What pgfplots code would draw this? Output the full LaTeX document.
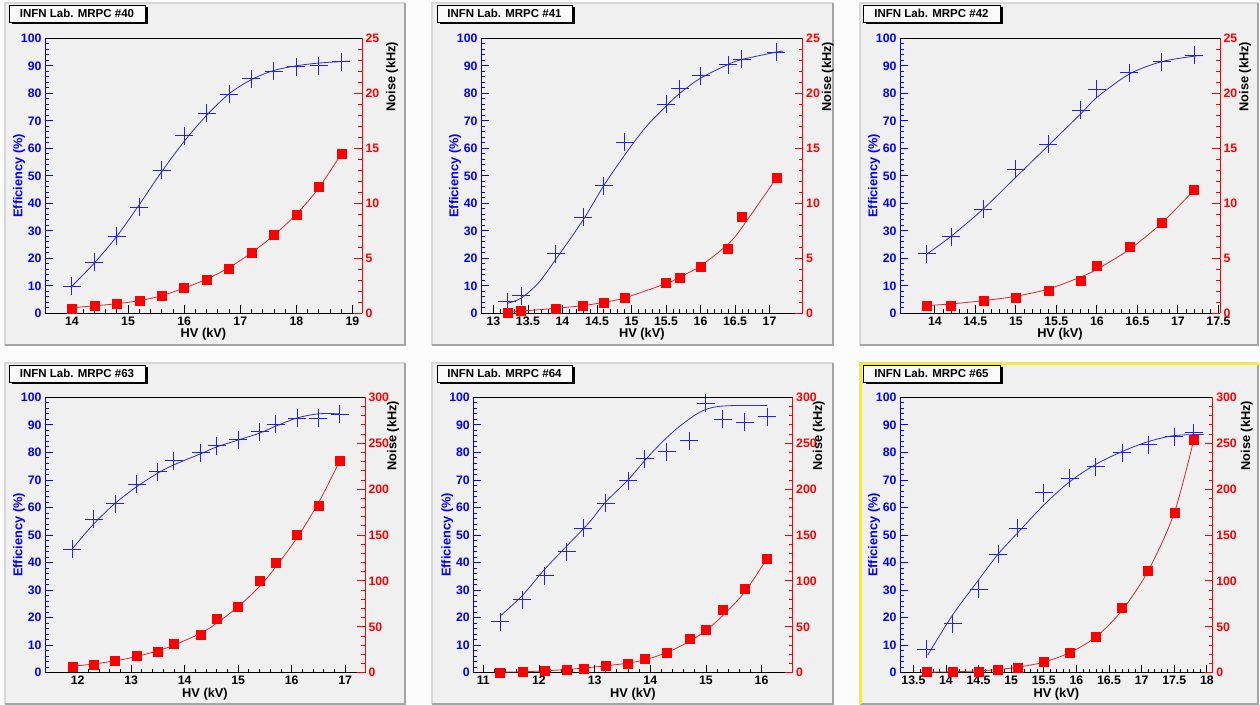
\documentclass[border=0pt]{standalone}
\usepackage{fontspec}
\setmainfont{Liberation Sans}
\usepackage{pgfplots}
\pgfplotsset{compat=1.18}
\usepackage{pgfplotstable}
\definecolor{padgray}{RGB}{240,240,240}
\definecolor{bggray}{RGB}{252,252,252}
\definecolor{bevdark}{RGB}{165,165,165}
\definecolor{bevlight}{RGB}{215,215,215}
\definecolor{fitblue}{RGB}{45,45,200}
\definecolor{fitred}{RGB}{215,40,40}
\definecolor{mkblue}{RGB}{0,0,255}
\definecolor{mkblue2}{RGB}{30,30,255}
\definecolor{mkred}{RGB}{255,0,0}
\definecolor{selyellow}{RGB}{255,240,0}
\newcommand{\tickfont}{\fontsize{12.3}{12.3}\selectfont\bfseries}
\newcommand{\labfont}{\fontsize{12.8}{13}\selectfont\bfseries}
\newcommand{\titfont}{\fontsize{11.5}{12}\selectfont\bfseries}

% ---------------- data: MRPC #40 ----------------
\pgfplotstableread{
hv eff
14.0 9.9
14.4 18.5
14.8 28.1
15.2 38.5
15.6 52.1
16.0 64.5
16.4 72.7
16.8 79.6
17.2 85.2
17.6 88.1
18.0 89.7
18.4 90.1
18.8 91.5
}\effA
\pgfplotstableread{
hv eff
14.0 9.9
14.4 18.3
14.8 28.0
15.2 39.5
15.6 51.5
16.0 62.5
16.4 72.0
16.8 79.8
17.2 85.0
17.6 88.3
18.0 90.0
18.4 91.0
18.95 91.7
}\efffitA
\pgfplotstableread{
hv noise
14.0 0.45
14.4 0.67
14.8 0.85
15.2 1.15
15.6 1.64
16.0 2.36
16.4 3.09
16.8 4.09
17.2 5.55
17.6 7.18
18.0 9.0
18.4 11.5
18.8 14.5
}\noiA
\pgfplotstableread{
hv noise
14.0 0.5
14.4 0.68
14.8 0.87
15.2 1.15
15.6 1.6
16.0 2.3
16.4 3.1
16.8 4.15
17.2 5.5
17.6 7.1
18.0 9.0
18.4 11.4
18.8 14.5
}\noifitA
% ---------------- data: MRPC #41 ----------------
\pgfplotstableread{
hv eff
13.2 4.2
13.4 6.3
13.9 21.6
14.3 34.9
14.6 46.4
14.9 62.2
15.5 76.1
15.7 81.6
16.0 86.4
16.4 90.3
16.6 92.4
17.1 95.0
}\effB
\pgfplotstableread{
hv eff
13.2 3.6
13.4 5.5
13.65 11.0
13.9 19.5
14.3 34.0
14.6 46.5
14.9 57.5
15.2 67.5
15.5 75.3
15.7 80.0
16.0 85.5
16.4 90.5
16.6 92.3
17.1 95.0
17.2 95.3
}\efffitB
\pgfplotstableread{
hv noise
13.2 0.09
13.4 0.2
13.9 0.45
14.3 0.7
14.6 1.0
14.9 1.45
15.5 2.8
15.7 3.24
16.0 4.2
16.4 5.9
16.6 8.76
17.1 12.33
}\noiB
\pgfplotstableread{
hv noise
13.2 0.1
13.4 0.2
13.9 0.45
14.3 0.7
14.6 1.0
14.9 1.4
15.5 2.7
15.7 3.3
16.0 4.3
16.4 6.3
16.6 7.8
17.1 12.3
}\noifitB
% ---------------- data: MRPC #42 ----------------
\pgfplotstableread{
hv eff
13.9 21.6
14.2 27.9
14.6 37.8
15.0 52.4
15.4 61.5
15.8 73.9
16.0 81.5
16.4 87.5
16.8 91.5
17.2 93.9
}\effC
\pgfplotstableread{
hv eff
13.9 21.5
14.2 28.0
14.6 38.0
15.0 49.5
15.4 61.0
15.8 72.5
16.0 78.5
16.4 87.0
16.8 91.5
17.2 93.5
17.3 93.7
}\efffitC
\pgfplotstableread{
hv noise
13.9 0.67
14.2 0.7
14.6 1.15
15.0 1.45
15.4 2.06
15.8 2.94
16.0 4.3
16.4 6.06
16.8 8.27
17.2 11.2
}\noiC
\pgfplotstableread{
hv noise
13.9 0.7
14.2 0.85
14.6 1.15
15.0 1.55
15.4 2.2
15.8 3.3
16.0 4.0
16.4 5.8
16.8 8.2
17.2 11.2
}\noifitC
% ---------------- data: MRPC #63 ----------------
\pgfplotstableread{
hv eff
11.9 44.9
12.3 55.7
12.7 61.3
13.1 68.5
13.5 73.0
13.8 76.9
14.3 79.9
14.6 82.4
15.0 84.5
15.4 87.5
15.7 90.3
16.1 92.4
16.5 92.4
16.9 93.8
}\effD
\pgfplotstableread{
hv eff
11.9 45.0
12.3 54.0
12.7 61.5
13.1 67.5
13.5 72.5
13.8 75.5
14.3 79.5
14.6 82.0
15.0 84.5
15.4 87.0
15.7 89.5
16.1 92.5
16.5 94.0
16.9 94.0
}\efffitD
\pgfplotstableread{
hv noise
11.9 6.5
12.3 9.1
12.7 13.1
13.1 18.2
13.5 22.5
13.8 31.2
14.3 41.0
14.6 58.8
15.0 71.6
15.4 99.9
15.7 119.9
16.1 150.0
16.5 181.6
16.9 231.0
}\noiD
\pgfplotstableread{
hv noise
11.9 7
12.3 9.5
12.7 13
13.1 17.5
13.5 24
13.8 30
14.3 43
14.6 54
15.0 72
15.4 94
15.7 115
16.1 147
16.5 185
16.9 231
}\noifitD
% ---------------- data: MRPC #64 ----------------
\pgfplotstableread{
hv eff
11.3 18.5
11.7 26.4
12.1 35.2
12.5 43.9
12.8 52.4
13.2 61.5
13.6 69.7
13.9 77.6
14.3 80.3
14.7 84.3
15.0 97.8
15.3 92.1
15.7 90.9
16.1 93.0
}\effE
\pgfplotstableread{
hv eff
11.3 20.5
11.7 28.0
12.1 37.5
12.5 46.0
12.9 54.5
13.2 62.0
13.6 70.0
13.9 77.0
14.2 83.5
14.5 89.0
14.8 93.5
15.0 95.6
15.2 96.6
15.5 97.0
16.1 97.0
}\efffitE
\pgfplotstableread{
hv noise
11.3 0.4
11.7 1.1
12.1 2.2
12.5 3.6
12.8 4.7
13.2 7.3
13.6 10.2
13.9 15.6
14.3 21.8
14.7 37.4
15.0 46.5
15.3 68.3
15.7 91.2
16.1 124.6
}\noiE
\pgfplotstableread{
hv noise
11.3 0.5
11.7 1
12.1 2
12.5 3.5
12.8 5
13.2 7.5
13.6 10.5
13.9 14
14.3 22
14.7 34
15.0 46
15.3 62
15.7 88
16.1 124.6
}\noifitE
% ---------------- data: MRPC #65 ----------------
\pgfplotstableread{
hv eff
13.7 8.5
14.1 17.7
14.5 30.3
14.8 43.1
15.1 52.4
15.5 65.4
15.9 70.6
16.3 74.8
16.7 79.9
17.1 82.7
17.5 85.7
17.8 87.2
}\effF
\pgfplotstableread{
hv eff
13.72 6.4
14.1 20.9
14.5 33.7
14.8 43.1
15.1 50.8
15.5 60.9
15.9 69.4
16.3 75.7
16.7 80.3
17.1 83.9
17.5 86.1
17.95 86.5
}\efffitF
\pgfplotstableread{
hv noise
13.7 0.7
14.1 0.7
14.5 1.1
14.8 3.6
15.1 5.8
15.5 12.0
15.9 22.2
16.3 39.2
16.7 71.2
17.1 110.8
17.5 174.0
17.8 254.0
}\noiF
\pgfplotstableread{
hv noise
13.7 0.5
14.1 1
14.5 2
14.8 3.5
15.1 6
15.5 11.5
15.9 22
16.3 39
16.7 68
17.1 111
17.5 174
17.8 254
}\noifitF

\pgfplotsset{
  base/.style={anchor=south west, scale only axis, enlargelimits=false,
    tick align=inside, major tick length=8pt, minor tick length=4pt,
    /pgf/number format/assume math mode=true,
    /pgf/number format/1000 sep={},
    minor x tick num=4, minor y tick num=4},
  effax/.style={base, axis x line*=bottom, axis y line*=left,
    ymin=0, ymax=100, ytick={0,10,...,100},
    x axis line style={black, line width=1pt},
    y axis line style={mkblue, line width=1pt},
    xtick style={black, line width=0.8pt},
    ytick style={mkblue, line width=0.8pt},
    xticklabel style={black, font=\tickfont},
    yticklabel style={mkblue, font=\tickfont},
    xlabel={HV (kV)}, ylabel={Efficiency (\%)},
    every axis x label/.style={at={(axis description cs:0.5,0)}, shift={(0pt,-21pt)}, anchor=center, font=\labfont, text=black},
    every axis y label/.style={at={(axis description cs:0,0.5)}, shift={(-26pt,0pt)}, rotate=90, anchor=center, font=\labfont, text=mkblue}},
  noiseax/.style={base, axis x line*=top, axis y line*=right,
    xtick=\empty, ymin=0,
    x axis line style={black, line width=1pt},
    y axis line style={mkred, line width=1pt},
    ytick style={mkred, line width=0.8pt},
    yticklabel style={mkred, font=\tickfont},
    ylabel={Noise (kHz)},
    every axis y label/.style={at={(axis description cs:1,1)}, shift={(#1,0pt)}, rotate=90, anchor=east, font=\labfont, text=black}},
  effmk/.style={only marks, mark=+, mark size=9pt, draw=mkblue2, color=mkblue2, mark options={draw=mkblue2, solid, line width=1pt}},
  noimk/.style={only marks, mark=square*, mark size=4.5pt, color=mkred, mark options={fill=mkred, draw=none}},
  efffit/.style={no marks, smooth, color=fitblue, line width=0.8pt},
  noifit/.style={no marks, smooth, color=fitred, line width=0.8pt},
}

\newcommand{\pad}[4]{%
  \fill[padgray] (#1pt,#2pt) rectangle (#3pt,#4pt);
  \draw[bevlight, line width=1.2pt] (#1pt,#2pt) -- (#1pt,#4pt) -- (#3pt,#4pt);
  \draw[bevdark, line width=1.5pt] (#1pt,#2pt) -- (#3pt,#2pt) -- (#3pt,#4pt);}
\newcommand{\tbox}[5]{%
  \fill[black] (#1pt+2.5pt,#2pt-2.5pt) rectangle (#3pt+2.5pt,#4pt-2.5pt);
  \filldraw[fill=white!98!black, draw=black, line width=0.8pt] (#1pt,#2pt) rectangle (#3pt,#4pt);
  \node[font=\titfont, inner sep=0pt, anchor=center] at ({(#1pt+#3pt)/2},{(#2pt+#4pt)/2}) {#5};}

\begin{document}
\begin{tikzpicture}
\fill[bggray] (0,0) rectangle (1260pt,704pt);
\pad{5}{359}{405}{701}
\pad{432}{359}{833}{701}
\pad{860}{359}{1258}{701}
\pad{5}{0}{405}{341}
\pad{432}{0}{833}{341}
\pad{860}{0}{1258}{341}
\draw[selyellow, line width=2pt] (861pt,0pt) -- (861pt,340pt) -- (1260pt,340pt);

% ===== #40 =====
\begin{axis}[effax, at={(45pt,390.7pt)}, width=317pt, height=275pt,
  xmin=13.52, xmax=19.17, xtick={14,15,...,19}]
\addplot[efffit] table[x=hv,y=eff] {\efffitA};
\addplot[effmk] table[x=hv,y=eff] {\effA};
\end{axis}
\begin{axis}[noiseax=30pt, at={(45pt,390.7pt)}, width=317pt, height=275pt,
  xmin=13.52, xmax=19.17, ymax=25, ytick={0,5,...,25}]
\addplot[noifit] table[x=hv,y=noise] {\noifitA};
\addplot[noimk] table[x=hv,y=noise] {\noiA};
\end{axis}
% ===== #41 =====
\begin{axis}[effax, at={(481pt,390.7pt)}, width=321.7pt, height=275pt,
  xmin=12.82, xmax=17.48, xtick={13,13.5,14,14.5,15,15.5,16,16.5,17}]
\addplot[efffit] table[x=hv,y=eff] {\efffitB};
\addplot[effmk] table[x=hv,y=eff] {\effB};
\end{axis}
\begin{axis}[noiseax=25pt, at={(481pt,390.7pt)}, width=321.7pt, height=275pt,
  xmin=12.82, xmax=17.48, ymax=25, ytick={0,5,...,25}]
\addplot[noifit] table[x=hv,y=noise] {\noifitB};
\addplot[noimk] table[x=hv,y=noise] {\noiB};
\end{axis}
% ===== #42 =====
\begin{axis}[effax, at={(900pt,390.7pt)}, width=320pt, height=275pt,
  xmin=13.57, xmax=17.52, xtick={14,14.5,15,15.5,16,16.5,17,17.5}]
\addplot[efffit] table[x=hv,y=eff] {\efffitC};
\addplot[effmk] table[x=hv,y=eff] {\effC};
\end{axis}
\begin{axis}[noiseax=25pt, at={(900pt,390.7pt)}, width=320pt, height=275pt,
  xmin=13.57, xmax=17.52, ymax=25, ytick={0,5,...,25}]
\addplot[noifit] table[x=hv,y=noise] {\noifitC};
\addplot[noimk] table[x=hv,y=noise] {\noiC};
\end{axis}
% ===== #63 =====
\begin{axis}[effax, at={(45pt,31.3pt)}, width=320pt, height=275.4pt,
  xmin=11.39, xmax=17.37, xtick={12,13,...,17}]
\addplot[efffit] table[x=hv,y=eff] {\efffitD};
\addplot[effmk] table[x=hv,y=eff] {\effD};
\end{axis}
\begin{axis}[noiseax=28pt, at={(45pt,31.3pt)}, width=320pt, height=275.4pt,
  xmin=11.39, xmax=17.37, ymax=300, ytick={0,50,...,300}]
\addplot[noifit] table[x=hv,y=noise] {\noifitD};
\addplot[noimk] table[x=hv,y=noise] {\noiD};
\end{axis}
% ===== #64 =====
\begin{axis}[effax, at={(473.3pt,31.3pt)}, width=319.4pt, height=275.4pt,
  xmin=10.82, xmax=16.56, xtick={11,12,...,16}]
\addplot[efffit] table[x=hv,y=eff] {\efffitE};
\addplot[effmk] table[x=hv,y=eff] {\effE};
\end{axis}
\begin{axis}[noiseax=26pt, at={(473.3pt,31.3pt)}, width=319.4pt, height=275.4pt,
  xmin=10.82, xmax=16.56, ymax=300, ytick={0,50,...,300}]
\addplot[noifit] table[x=hv,y=noise] {\noifitE};
\addplot[noimk] table[x=hv,y=noise] {\noiE};
\end{axis}
% ===== #65 =====
\begin{axis}[effax, at={(900pt,31.3pt)}, width=312.7pt, height=275.4pt,
  xmin=13.295, xmax=18.09, xtick={13.5,14,14.5,15,15.5,16,16.5,17,17.5,18}]
\addplot[efffit] table[x=hv,y=eff] {\efffitF};
\addplot[effmk] table[x=hv,y=eff] {\effF};
\end{axis}
\begin{axis}[noiseax=34pt, at={(900pt,31.3pt)}, width=312.7pt, height=275.4pt,
  xmin=13.295, xmax=18.09, ymax=300, ytick={0,50,...,300}]
\addplot[noifit] table[x=hv,y=noise] {\noifitF};
\addplot[noimk] table[x=hv,y=noise] {\noiF};
\end{axis}

% title boxes
\tbox{9}{682}{145}{699}{INFN Lab. MRPC \#40}
\tbox{437}{682}{572}{699}{INFN Lab. MRPC \#41}
\tbox{863}{682}{1000}{699}{INFN Lab. MRPC \#42}
\tbox{9}{322}{145}{339}{INFN Lab. MRPC \#63}
\tbox{437}{322}{572}{339}{INFN Lab. MRPC \#64}
\tbox{863}{322}{1000}{339}{INFN Lab. MRPC \#65}

\pgfresetboundingbox
\path[use as bounding box] (0,0) rectangle (1260pt,704pt);
\end{tikzpicture}
\end{document}
